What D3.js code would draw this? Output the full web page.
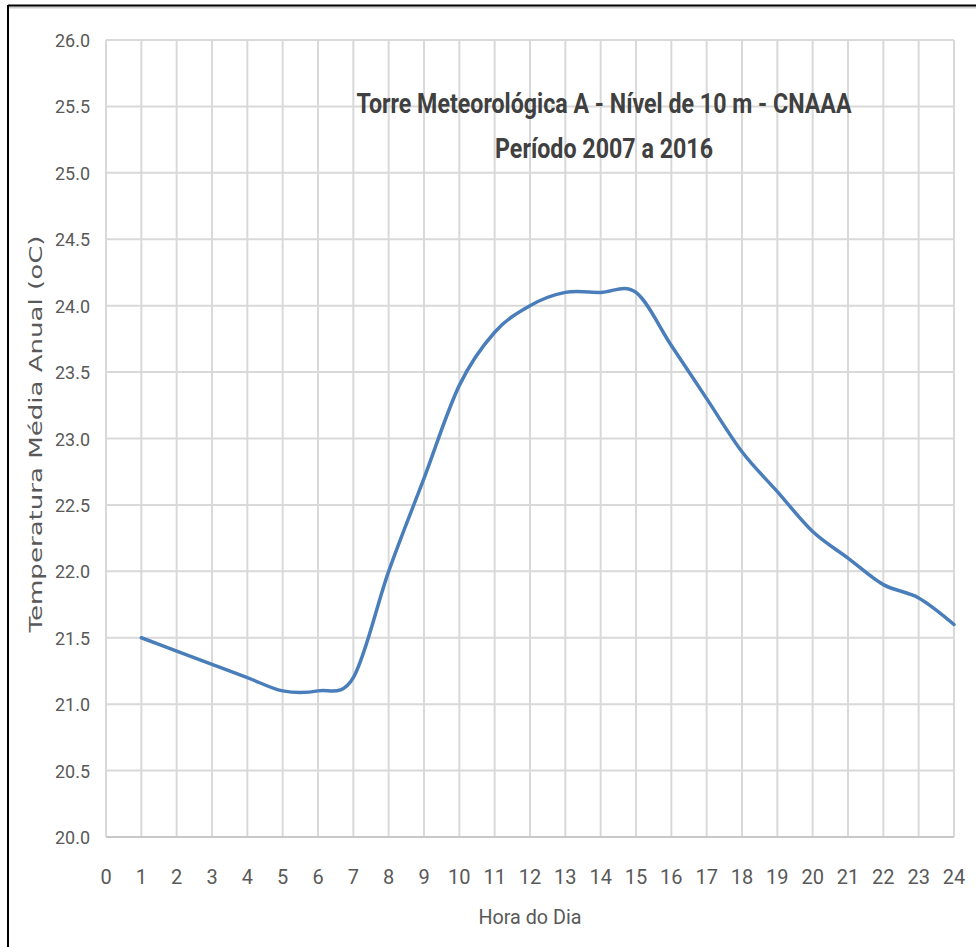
<!DOCTYPE html>
<html><head><meta charset="utf-8">
<script src="https://cdn.jsdelivr.net/npm/d3@7"></script>
<style>body{margin:0;background:#fff;} svg{display:block;}</style>
</head><body>
<svg id="c" width="976" height="947"></svg>
<script>
const hours = [1,2,3,4,5,6,7,8,9,10,11,12,13,14,15,16,17,18,19,20,21,22,23,24];
const temps = [21.5,21.4,21.3,21.2,21.1,21.1,21.2,22.0,22.7,23.4,23.8,24.0,24.1,24.1,24.1,23.7,23.3,22.9,22.6,22.3,22.1,21.9,21.8,21.6];
const xTicks = d3.range(0,25);
const yTicks = [20.0,20.5,21.0,21.5,22.0,22.5,23.0,23.5,24.0,24.5,25.0,25.5,26.0];
const titleLines = ["Torre Meteorológica A - Nível de 10 m - CNAAA","Período 2007 a 2016"];
const xTitle = "Hora do Dia";
const yTitle = "Temperatura Média Anual (oC)";

const svg = d3.select("#c");
const cond = "'Liberation Sans Narrow','Arial Narrow',Roboto,sans-serif";
// border
svg.append("line").attr("x1",8).attr("x2",976).attr("y1",7.5).attr("y2",7.5).attr("stroke","#ccc").attr("stroke-width",2);
svg.append("line").attr("x1",8).attr("x2",976).attr("y1",5.5).attr("y2",5.5).attr("stroke","#000").attr("stroke-width",2);
svg.append("line").attr("x1",8).attr("x2",8).attr("y1",5).attr("y2",947).attr("stroke","#000").attr("stroke-width",2);

const L=106,R=954,T=40,B=837;
const x = d3.scaleLinear().domain([0,24]).range([L,R]);
const y = d3.scaleLinear().domain([20,26]).range([B,T]);

const g = svg.append("g");
g.selectAll(".vg").data(xTicks).join("line").attr("x1",d=>x(d)).attr("x2",d=>x(d)).attr("y1",T).attr("y2",B)
 .attr("stroke","#d9d9d9").attr("stroke-width",2);
g.selectAll(".hg").data(yTicks).join("line").attr("x1",L).attr("x2",R).attr("y1",d=>y(d)).attr("y2",d=>y(d))
 .attr("stroke","#d9d9d9").attr("stroke-width",2);
g.append("line").attr("x1",L).attr("x2",R).attr("y1",B).attr("y2",B).attr("stroke","#c8c8c8").attr("stroke-width",2);

g.selectAll(".yt").data(yTicks).join("text").attr("x",90).attr("y",d=>y(d)+7).attr("text-anchor","end")
 .attr("font-family",cond).attr("font-size",19).attr("fill","#595959")
 .attr("textLength",35).attr("lengthAdjust","spacingAndGlyphs").text(d=>d.toFixed(1));
g.selectAll(".xt").data(xTicks).join("text").attr("x",d=>x(d)).attr("y",884).attr("text-anchor","middle")
 .attr("font-family",cond).attr("font-size",20).attr("fill","#595959").text(d=>d);

svg.append("text").attr("x",530).attr("y",924).attr("text-anchor","middle").attr("font-family",cond)
 .attr("font-size",20).attr("fill","#595959").attr("textLength",103).attr("lengthAdjust","spacingAndGlyphs").text(xTitle);
svg.append("text").attr("transform","translate(42,434) rotate(-90)").attr("text-anchor","middle")
 .attr("font-family","'DejaVu Sans',Verdana,sans-serif").attr("font-size",18).attr("fill","#595959")
 .attr("textLength",397).attr("lengthAdjust","spacingAndGlyphs").text(yTitle);

svg.append("text").attr("x",604).attr("y",113).attr("text-anchor","middle").attr("font-family",cond)
 .attr("font-weight","bold").attr("font-size",28).attr("fill","#404040")
 .attr("textLength",495).attr("lengthAdjust","spacingAndGlyphs").text(titleLines[0]);
svg.append("text").attr("x",604).attr("y",158).attr("text-anchor","middle").attr("font-family",cond)
 .attr("font-weight","bold").attr("font-size",28).attr("fill","#404040")
 .attr("textLength",218).attr("lengthAdjust","spacingAndGlyphs").text(titleLines[1]);

const line = d3.line().x((d,i)=>x(hours[i])).y(d=>y(d)).curve(d3.curveCatmullRom.alpha(0));
svg.append("path").attr("d",line(temps)).attr("fill","none").attr("stroke","#4a7ebb").attr("stroke-width",3.5)
 .attr("stroke-linejoin","round").attr("stroke-linecap","round");
</script>
</body></html>
